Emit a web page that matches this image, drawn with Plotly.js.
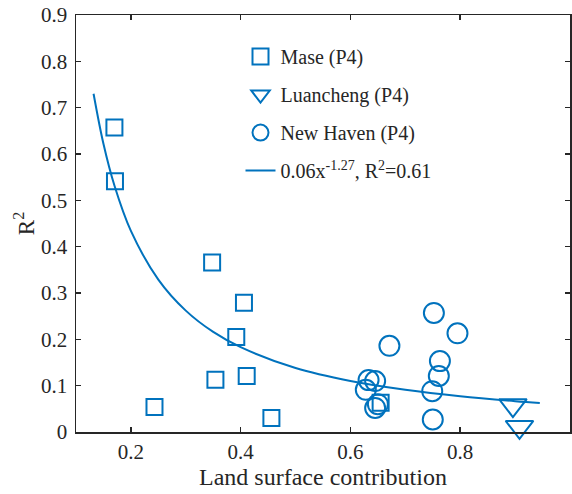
<!DOCTYPE html>
<html>
<head>
<meta charset="utf-8">
<script src="https://cdn.plot.ly/plotly-3.0.1.min.js"></script>
<style>html,body{margin:0;padding:0;background:#fff;}#chart{width:572px;height:494px;}</style>
</head>
<body>
<div id="chart"></div>
<script>
// Mase (P4)
const maseX = [0.170, 0.171, 0.348, 0.406, 0.392, 0.354, 0.411, 0.243, 0.456, 0.655];
const maseY = [0.657, 0.541, 0.366, 0.279, 0.205, 0.113, 0.121, 0.054, 0.030, 0.063];
// Luancheng (P4)
const luanX = [0.896, 0.908];
const luanY = [0.058, 0.011];
// New Haven (P4)
const nhX = [0.671, 0.752, 0.795, 0.763, 0.761, 0.749, 0.750, 0.633, 0.645, 0.628, 0.645, 0.650];
const nhY = [0.186, 0.257, 0.213, 0.153, 0.121, 0.088, 0.027, 0.112, 0.110, 0.091, 0.052, 0.060];
// Fit curve 0.06x^-1.27
const fitX = [0.132, 0.15, 0.17, 0.2, 0.25, 0.3, 0.35, 0.4, 0.5, 0.6, 0.7, 0.8, 0.9, 0.945];
const fitY = [0.730, 0.622, 0.532, 0.434, 0.329, 0.262, 0.216, 0.183, 0.138, 0.110, 0.091, 0.077, 0.0665, 0.0626];

const xTicks = [0.2, 0.4, 0.6, 0.8, 1];
const xTickText = ['0.2', '0.4', '0.6', '0.8', '1'];
const yTicks = [0, 0.1, 0.2, 0.3, 0.4, 0.5, 0.6, 0.7, 0.8, 0.9];
const yTickText = ['0', '0.1', '0.2', '0.3', '0.4', '0.5', '0.6', '0.7', '0.8', '0.9'];

const blue = '#0072BD';
const ink = '#262626';
const font = 'Liberation Serif';

const traces = [
  {x: maseX, y: maseY, type: 'scatter', mode: 'markers', name: 'Mase (P4)', legendgroup: 'a', cliponaxis: false,
   marker: {symbol: 'square-open', size: 16, color: blue, line: {width: 2, color: blue}}},
  {x: luanX, y: luanY, type: 'scatter', mode: 'markers', name: 'Luancheng (P4)', legendgroup: 'b', cliponaxis: false,
   marker: {symbol: 'triangle-down-open', size: 24, color: blue, line: {width: 2, color: blue}}},
  {x: nhX, y: nhY, type: 'scatter', mode: 'markers', name: 'New Haven (P4)', legendgroup: 'c', cliponaxis: false,
   marker: {symbol: 'circle-open', size: 20, color: blue, line: {width: 2, color: blue}}},
  {x: fitX, y: fitY, type: 'scatter', mode: 'lines', name: '0.06x<sup>-1.27</sup>, R<sup>2</sup>=0.61', legendgroup: 'd',
   line: {color: blue, width: 2, shape: 'spline'}}
];

const layout = {
  width: 572, height: 494,
  margin: {l: 76, r: 2, t: 15, b: 62},
  paper_bgcolor: '#fff', plot_bgcolor: '#fff',
  font: {family: font, size: 20, color: ink},
  showlegend: true,
  legend: {x: 0.333, y: 0.947, xanchor: 'left', yanchor: 'top', bgcolor: 'rgba(0,0,0,0)',
           font: {family: font, size: 20, color: ink}, tracegroupgap: 9, itemwidth: 30},
  xaxis: {range: [0.1, 1], tickvals: xTicks, ticktext: xTickText, ticks: 'inside', ticklen: 5, tickwidth: 1.5,
          tickcolor: ink, showline: true, linecolor: ink, linewidth: 1.5, mirror: 'ticks', showgrid: false,
          zeroline: false, tickfont: {family: font, size: 21, color: ink}, ticklabelstandoff: 0,
          title: {text: 'Land surface contribution', font: {family: font, size: 24, color: ink}, standoff: 5}},
  yaxis: {range: [0, 0.9], tickvals: yTicks, ticktext: yTickText, ticks: 'inside', ticklen: 5, tickwidth: 1.5,
          tickcolor: ink, showline: true, linecolor: ink, linewidth: 1.5, mirror: 'ticks', showgrid: false,
          zeroline: false, tickfont: {family: font, size: 21, color: ink}, ticklabelstandoff: 3,
          title: {text: 'R<sup>2</sup>', font: {family: font, size: 23, color: ink}, standoff: 0}}
};

Plotly.newPlot('chart', traces, layout, {displayModeBar: false, staticPlot: true});
</script>
</body>
</html>
